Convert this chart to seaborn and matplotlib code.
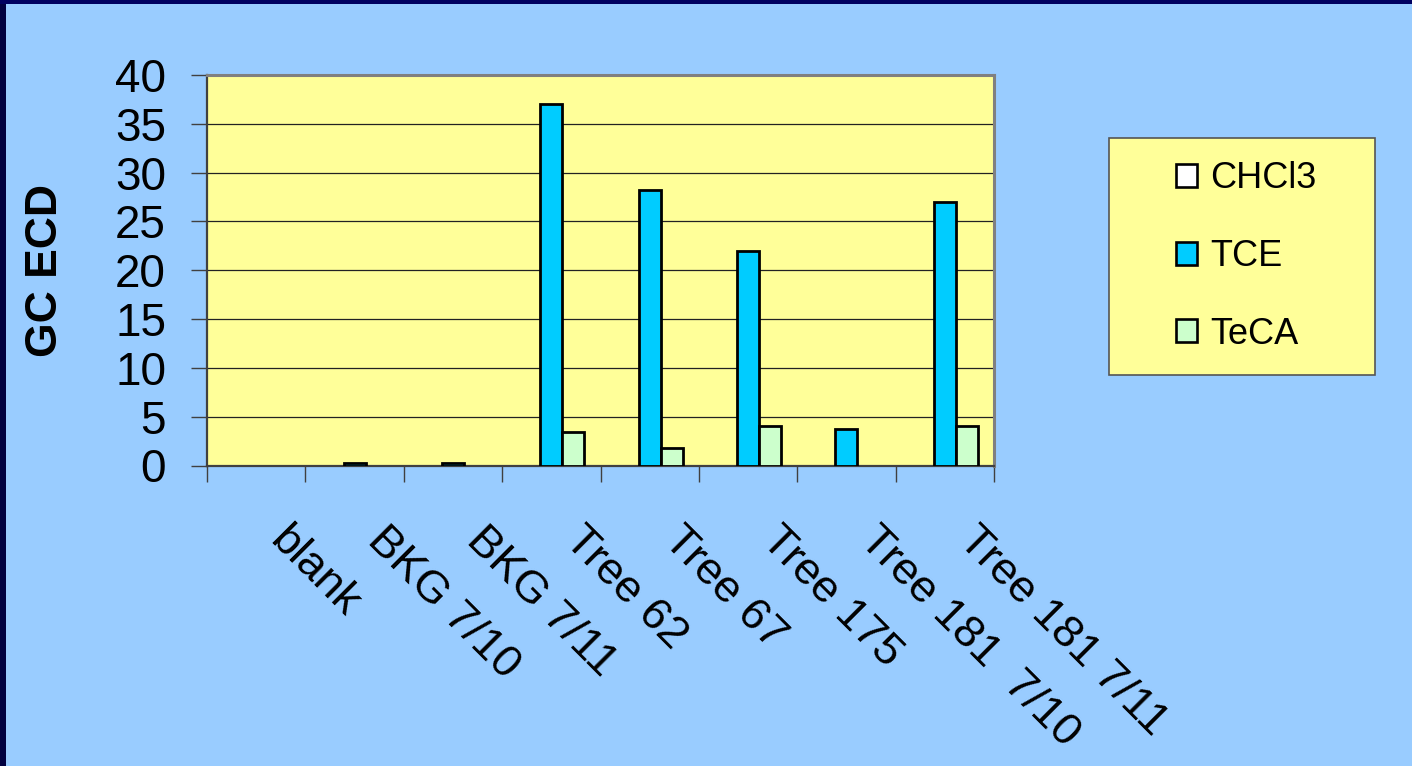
import numpy as np
import pandas as pd
import matplotlib
matplotlib.use("Agg")
import matplotlib.pyplot as plt
import seaborn as sns
from matplotlib.patches import Rectangle, Patch
from matplotlib.ticker import FixedLocator, NullFormatter
from matplotlib.transforms import ScaledTranslation

# Samples and measured GC-ECD responses (empty cells = not detected)
samples = ["blank", "BKG 7/10", "BKG 7/11", "Tree 62", "Tree 67",
           "Tree 175", "Tree 181  7/10", "Tree 181 7/11"]
chcl3 = [np.nan, np.nan, np.nan, np.nan, np.nan, np.nan, np.nan, np.nan]
tce = [np.nan, 0.3, 0.3, 37.0, 28.2, 22.0, 3.7, 27.0]
teca = [np.nan, np.nan, np.nan, 3.4, 1.8, 4.0, np.nan, 4.0]
compounds = ["CHCl3", "TCE", "TeCA"]
colors = ["#FFFFFF", "#00CCFF", "#CCFFCC"]
yticks = [0, 5, 10, 15, 20, 25, 30, 35, 40]

sns.set_style("white")
plt.rcParams["font.family"] = ["Liberation Sans", "DejaVu Sans"]
plt.rcParams.update({"text.color": "black", "axes.labelcolor": "black",
                     "xtick.color": "black", "ytick.color": "black"})

df = pd.DataFrame({
    "Sample": samples * 3,
    "Compound": [c for c in compounds for _ in samples],
    "Value": chcl3 + tce + teca,
})

W, H = 1412, 766
fig = plt.figure(figsize=(W / 100, H / 100), dpi=100, facecolor="#99CCFF")

# dark slide frame on the left and top edges
fig.patches.append(Rectangle((0, 0), 6 / W, 1, transform=fig.transFigure,
                             facecolor="#000040", edgecolor="none", zorder=0))
fig.patches.append(Rectangle((0, 1 - 4 / H), 1, 4 / H, transform=fig.transFigure,
                             facecolor="#000060", edgecolor="none", zorder=0))

ax = fig.add_axes([207 / W, 1 - 465.5 / H, (994 - 207) / W, (465.5 - 75) / H])
ax.set_facecolor("#FFFF99")

sns.barplot(data=df, x="Sample", y="Value", hue="Compound", order=samples,
            hue_order=compounds, palette=colors, width=0.67, saturation=1,
            edgecolor="black", linewidth=2.0, errorbar=None, legend=False,
            ax=ax, zorder=3)

ax.set_xlim(-0.5, len(samples) - 0.5)
ax.set_ylim(0, 40)
ax.set_yticks(yticks)
ax.set_axisbelow(True)
ax.yaxis.grid(True, color="#222222", linewidth=0.9)
ax.xaxis.grid(False)

# spines
for side in ("left", "bottom"):
    ax.spines[side].set_color("#404040")
    ax.spines[side].set_linewidth(1.6)
for side in ("top", "right"):
    ax.spines[side].set_color("#808080")
    ax.spines[side].set_linewidth(2.2)

# y ticks
ax.tick_params(axis="y", which="major", left=True, direction="out", length=11.5,
               width=1.0, color="#404040", labelcolor="black", labelsize=33, pad=18)
# x: labels at category centres, tick marks between categories
ax.tick_params(axis="x", which="major", bottom=True, length=0, labelsize=32.5,
               labelcolor="black", pad=49)
ax.xaxis.set_minor_locator(FixedLocator(np.arange(-0.5, len(samples), 1.0)))
ax.xaxis.set_minor_formatter(NullFormatter())
ax.tick_params(axis="x", which="minor", bottom=True, direction="out", length=11.5,
               width=1.0, color="#404040")
shift = ScaledTranslation(0.2, 0, fig.dpi_scale_trans)
for lab in ax.get_xticklabels():
    lab.set_rotation(-45)
    lab.set_rotation_mode("anchor")
    lab.set_ha("left")
    lab.set_va("center")
    lab.set_transform(lab.get_transform() + shift)

ax.set_xlabel("")
ax.set_ylabel("GC ECD", fontsize=32, fontweight="bold", va="center", color="black")
ax.yaxis.set_label_coords((46 - 207) / (994 - 207), 0.5)

# legend box
lx0, lx1, ly0, ly1 = 1109, 1375, 375, 138
fig.patches.append(Rectangle((lx0 / W, 1 - ly0 / H), (lx1 - lx0) / W, (ly0 - ly1) / H,
                             transform=fig.transFigure, facecolor="#FFFF99",
                             edgecolor="#555555", linewidth=1.2, zorder=1))
handles = [Patch(facecolor=c, edgecolor="black", linewidth=1.9) for c in colors]
leg = fig.legend(handles, compounds, loc="center",
                 bbox_to_anchor=((lx0 + lx1) / 2 / W + 4 / W, 1 - (ly0 + ly1) / 2 / H),
                 frameon=False, fontsize=26, handlelength=0.6, handleheight=0.6,
                 handletextpad=0.35, labelspacing=1.18, labelcolor="black")

fig.savefig("out.png", dpi=100, facecolor=fig.get_facecolor())
